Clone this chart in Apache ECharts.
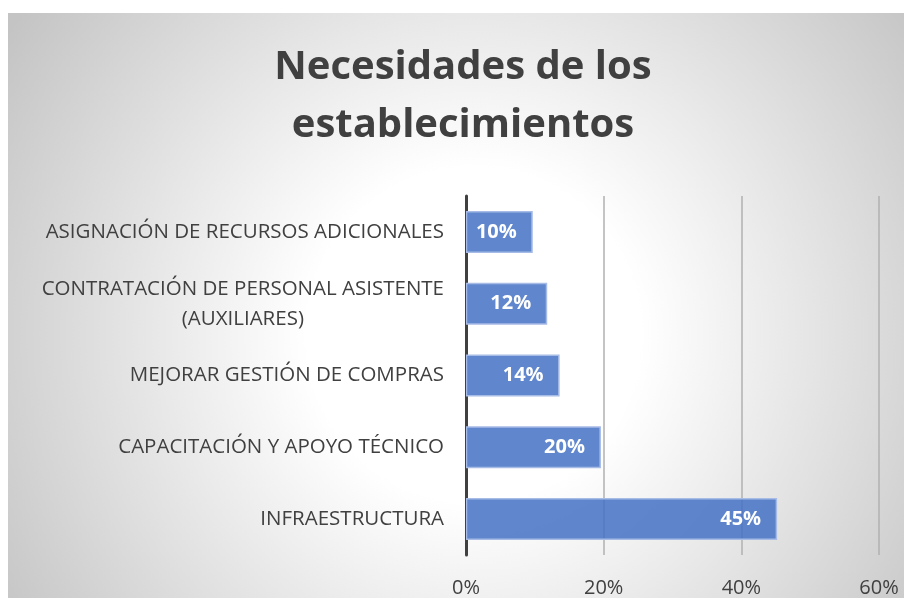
<!DOCTYPE html>
<html lang="es">

<head>
    <meta charset="UTF-8">
    <title>Necesidades de los establecimientos</title>
    <script src="https://cdn.jsdelivr.net/npm/echarts@6/dist/echarts.min.js"></script>
    <style>
        body { margin: 0; background: #fff; }
        #main { position: absolute; left: 8px; top: 13px; width: 896px; height: 585px; }
    </style>
</head>

<body>
    <div id="main"></div>
    <script>
        // bottom to top, as the category axis draws them
        let categories = [
            'INFRAESTRUCTURA',
            'CAPACITACIÓN Y APOYO TÉCNICO',
            'MEJORAR GESTIÓN DE COMPRAS',
            'CONTRATACIÓN DE PERSONAL ASISTENTE\n(AUXILIARES)',
            'ASIGNACIÓN DE RECURSOS ADICIONALES'
        ]
        let values = [45.2, 19.6, 13.6, 11.8, 9.7]
        let xTicks = [0, 20, 40, 60]
    </script>
    <script>
        var chartDom = document.getElementById('main');
        var myChart = echarts.init(chartDom);
        var option;
        var textColor = '#404040';
        var font = '"Open Sans", sans-serif';

        option = {
            backgroundColor: new echarts.graphic.RadialGradient(0.52, 0.55, 0.95, [
                { offset: 0, color: '#ffffff' },
                { offset: 0.3, color: '#ffffff' },
                { offset: 1, color: '#c4c4c4' }
            ]),
            textStyle: { fontFamily: font },
            title: {
                text: 'Necesidades de los\nestablecimientos',
                left: 450,
                top: 21,
                textAlign: 'center',
                textStyle: {
                    color: textColor,
                    fontSize: 40,
                    fontWeight: 'bold',
                    lineHeight: 58,
                    fontFamily: font
                }
            },
            grid: {
                left: 458,
                right: 25,
                top: 183,
                bottom: 42
            },
            xAxis: {
                type: 'value',
                min: xTicks[0],
                max: xTicks[xTicks.length - 1],
                interval: 20,
                axisLine: { show: false },
                axisTick: { show: false },
                splitLine: { lineStyle: { color: '#b0b0b0', width: 1.5 } },
                axisLabel: {
                    formatter: '{value}%',
                    color: textColor,
                    fontSize: 20,
                    margin: 23
                }
            },
            yAxis: {
                type: 'category',
                data: categories,
                axisTick: { show: false },
                axisLine: { lineStyle: { color: '#404040', width: 3 } },
                axisLabel: {
                    color: textColor,
                    fontSize: 20.5,
                    margin: 22,
                    lineHeight: 30,
                    formatter: function (v) {
                        return v.split('\n').map(s => '{c|' + s + '}').join('\n');
                    },
                    rich: {
                        c: { align: 'center', color: textColor, fontSize: 20.5, lineHeight: 30 }
                    }
                }
            },
            series: [
                {
                    type: 'bar',
                    data: values,
                    barWidth: 42,
                    itemStyle: {
                        color: 'rgba(68,114,196,0.85)',
                        borderColor: '#a6bbe6',
                        borderWidth: 1.5
                    },
                    label: {
                        show: true,
                        position: 'insideRight',
                        distance: 16,
                        color: '#ffffff',
                        fontWeight: 'bold',
                        fontSize: 20,
                        formatter: p => Math.round(p.value) + '%'
                    }
                }
            ]
        };

        option && myChart.setOption(option);
    </script>
</body>

</html>
